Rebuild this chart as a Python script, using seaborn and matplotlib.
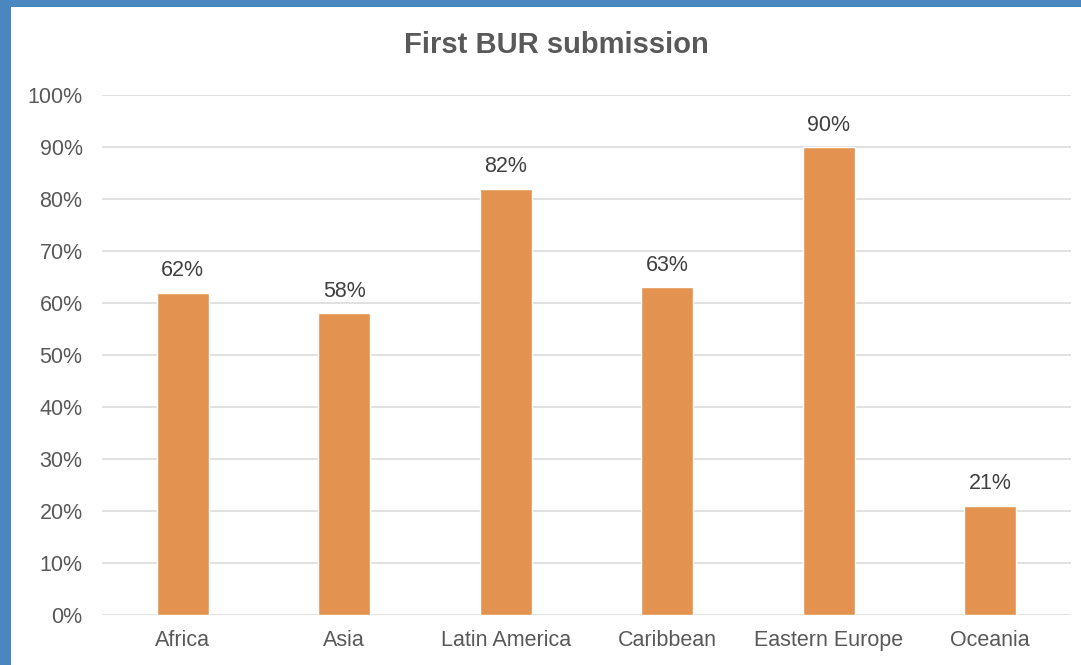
import matplotlib
matplotlib.use('Agg')
import matplotlib.pyplot as plt
from matplotlib.patches import Rectangle
from matplotlib.ticker import FuncFormatter
import seaborn as sns
import pandas as pd

regions = ['Africa', 'Asia', 'Latin America', 'Caribbean', 'Eastern Europe', 'Oceania']
share = [62, 58, 82, 63, 90, 21]

df = pd.DataFrame({'region': regions, 'share': share})

sns.set_style('white')
plt.rcParams['font.family'] = ['Liberation Sans', 'DejaVu Sans']

fig = plt.figure(figsize=(10.81, 6.65), dpi=100)
fig.patch.set_facecolor('#4a86c0')
fig.patches.append(Rectangle((11 / 1081, 0), 1 - 11 / 1081, 1 - 7 / 665,
                             transform=fig.transFigure, facecolor='white',
                             edgecolor='none', zorder=-10))

ax = fig.add_axes([102 / 1081, 1 - 615 / 665, 969 / 1081, 520 / 665])
ax.set_facecolor('none')

sns.barplot(data=df, x='region', y='share', color='#e3934f', width=0.32,
            saturation=1, ax=ax, zorder=3)

for i, v in enumerate(share):
    ax.text(i, v + 2.2, f'{v}%', ha='center', va='bottom', fontsize=15.5, color='#404040')

ax.set_ylim(0, 100)
ax.set_yticks(range(0, 101, 10))
ax.yaxis.set_major_formatter(FuncFormatter(lambda v, p: f'{int(v)}%'))
ax.grid(axis='y', color='#d9d9d9', linewidth=1.1, zorder=0)
ax.set_axisbelow(True)
for s in ax.spines.values():
    s.set_visible(False)
ax.tick_params(axis='both', length=0, labelsize=15.5, labelcolor='#595959')
ax.tick_params(axis='y', pad=14)
ax.tick_params(axis='x', pad=11)
ax.set_xlabel('')
ax.set_ylabel('')

fig.text(556 / 1081, 1 - 45 / 665, 'First BUR submission', ha='center', va='center',
         fontsize=21, fontweight='bold', color='#595959')

fig.savefig('out.png', dpi=100, facecolor=fig.get_facecolor())
